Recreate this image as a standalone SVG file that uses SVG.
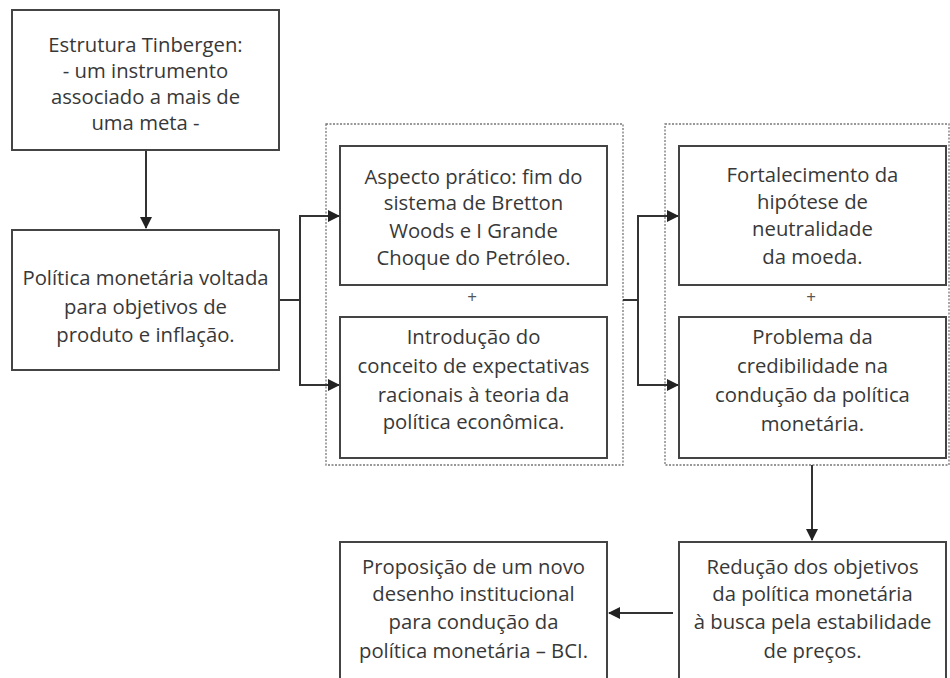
<svg xmlns="http://www.w3.org/2000/svg" width="950" height="678" viewBox="0 0 950 678">
<style>
.box{fill:#fff;stroke:#444;stroke-width:2}
.grp{fill:none;stroke:#777;stroke-width:1.3;stroke-dasharray:2 1.5}
.t{font-family:"Open Sans","Liberation Sans",sans-serif;font-size:20.3px;fill:#383838;text-anchor:middle}
.p{font-family:"Open Sans","Liberation Sans",sans-serif;font-size:17px;fill:#555;text-anchor:middle}
.c{fill:none;stroke:#333;stroke-width:2}
</style>
<defs>
<marker id="ah" viewBox="0 0 12 12" refX="11" refY="6" markerWidth="12" markerHeight="12" markerUnits="userSpaceOnUse" orient="auto">
<path d="M0,0 L12,6 L0,12 Z" fill="#222"/>
</marker>
</defs>
<rect width="950" height="678" fill="#fff"/>
<g id="group-a"><rect class="grp" x="326" y="124" width="297" height="341"/><text class="p" x="472" y="303">+</text></g>
<g id="group-b"><rect class="grp" x="665" y="124" width="284" height="341"/><text class="p" x="811" y="303">+</text></g>
<g id="connectors">
<path class="c" d="M146,150 V228" marker-end="url(#ah)"/>
<path class="c" d="M279,300 H300"/>
<path class="c" d="M300,216 V385"/>
<path class="c" d="M299,216 H339" marker-end="url(#ah)"/>
<path class="c" d="M299,385 H339" marker-end="url(#ah)"/>
<path class="c" d="M623,300 H638"/>
<path class="c" d="M638,216 V385"/>
<path class="c" d="M637,216 H678" marker-end="url(#ah)"/>
<path class="c" d="M637,385 H678" marker-end="url(#ah)"/>
<path class="c" d="M812,465 V540" marker-end="url(#ah)"/>
<path class="c" d="M673,613 H609" marker-end="url(#ah)"/>
</g>
<g id="n1"><rect class="box" x="12" y="10" width="267" height="140"/>
<text class="t" x="145.5" y="52">Estrutura Tinbergen:</text>
<text class="t" x="145.5" y="78">- um instrumento</text>
<text class="t" x="145.5" y="104">associado a mais de</text>
<text class="t" x="145.5" y="130">uma meta -</text></g>
<g id="n2"><rect class="box" x="12" y="230" width="267" height="140"/>
<text class="t" x="145.5" y="285">Política monetária voltada</text>
<text class="t" x="145.5" y="314">para objetivos de</text>
<text class="t" x="145.5" y="342">produto e inflação.</text></g>
<g id="n3"><rect class="box" x="340" y="146" width="267" height="139"/>
<text class="t" x="473.5" y="184">Aspecto prático: fim do</text>
<text class="t" x="473.5" y="210">sistema de Bretton</text>
<text class="t" x="473.5" y="238">Woods e I Grande</text>
<text class="t" x="473.5" y="265">Choque do Petróleo.</text></g>
<g id="n4"><rect class="box" x="340" y="317" width="267" height="141"/>
<text class="t" x="473.5" y="344">Introdução do</text>
<text class="t" x="473.5" y="373">conceito de expectativas</text>
<text class="t" x="473.5" y="402">racionais à teoria da</text>
<text class="t" x="473.5" y="429">política econômica.</text></g>
<g id="n5"><rect class="box" x="679" y="146" width="267" height="139"/>
<text class="t" x="812.5" y="182">Fortalecimento da</text>
<text class="t" x="812.5" y="209">hipótese de</text>
<text class="t" x="812.5" y="236">neutralidade</text>
<text class="t" x="812.5" y="264">da moeda.</text></g>
<g id="n6"><rect class="box" x="679" y="317" width="267" height="141"/>
<text class="t" x="812.5" y="344">Problema da</text>
<text class="t" x="812.5" y="373">credibilidade na</text>
<text class="t" x="812.5" y="402">condução da política</text>
<text class="t" x="812.5" y="431">monetária.</text></g>
<g id="n7"><rect class="box" x="340" y="542" width="267" height="150"/>
<text class="t" x="473.5" y="574">Proposição de um novo</text>
<text class="t" x="473.5" y="601">desenho institucional</text>
<text class="t" x="473.5" y="629">para condução da</text>
<text class="t" x="473.5" y="658">política monetária – BCI.</text></g>
<g id="n8"><rect class="box" x="679" y="542" width="267" height="150"/>
<text class="t" x="812.5" y="574">Redução dos objetivos</text>
<text class="t" x="812.5" y="601">da política monetária</text>
<text class="t" x="812.5" y="629">à busca pela estabilidade</text>
<text class="t" x="812.5" y="658">de preços.</text></g>
</svg>
